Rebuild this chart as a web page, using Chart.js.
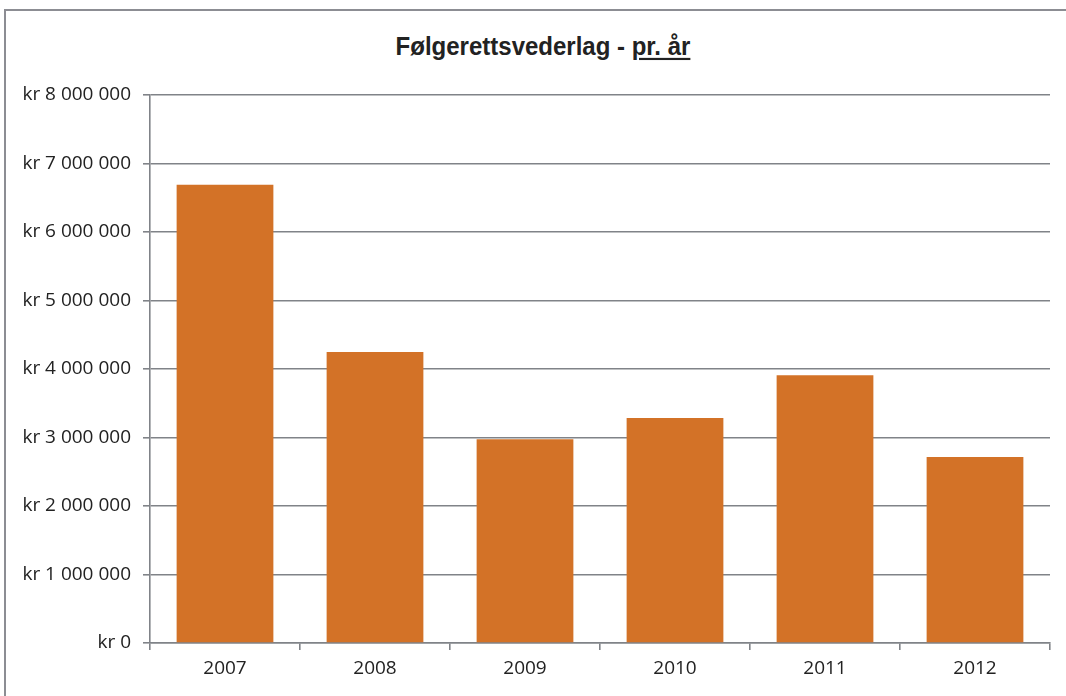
<!DOCTYPE html>
<html>
<head>
<meta charset="utf-8">
<script src="https://cdn.jsdelivr.net/npm/chart.js@4"></script>
<style>
  html, body { margin: 0; padding: 0; background: #fff; }
  #wrap { position: relative; width: 1066px; height: 696px; overflow: hidden; }
  #frame { position: absolute; left: 4px; top: 9px; width: 1100px; height: 800px;
           border-left: 2px solid #8c8d93; border-top: 2px solid #8c8d93; }
  #title { position: absolute; left: 0; top: 32px; width: 1086px; text-align: center;
           font-family: "Liberation Sans Narrow", "Arial Narrow", sans-serif; font-weight: bold;
           font-size: 24px; color: #222; transform: scaleY(1.08); }
  #title u { text-decoration-thickness: 2px; text-underline-offset: 3px; }
  canvas { position: absolute; left: 0; top: 0; }
</style>
</head>
<body>
<div id="wrap">
  <div id="frame"></div>
  <div id="title">Følgerettsvederlag - <u>pr. år</u></div>
  <canvas id="c" width="1066" height="696"></canvas>
</div>
<script>
const years = ["2007", "2008", "2009", "2010", "2011", "2012"];
const amounts = [6690000, 4250000, 2975000, 3285000, 3910000, 2715000];
const yMin = 0, yMax = 8000000, yStep = 1000000;

function krFormat(v) {
  const s = Math.round(v).toString().replace(/\B(?=(\d{3})+(?!\d))/g, " ");
  return "kr " + s;
}

new Chart(document.getElementById("c"), {
  type: "bar",
  data: {
    labels: years,
    datasets: [{
      data: amounts,
      backgroundColor: "#d37227",
      borderWidth: 0,
      categoryPercentage: 1.0,
      barPercentage: 0.645
    }]
  },
  options: {
    responsive: false,
    animation: false,
    layout: { padding: { left: 0, right: 16, top: 95, bottom: 0 } },
    plugins: { legend: { display: false }, title: { display: false }, tooltip: { enabled: false } },
    scales: {
      x: {
        afterFit: s => { s.height = 53; },
        grid: { display: true, drawOnChartArea: false, drawTicks: true, tickLength: 7, color: "#808388", lineWidth: 1.6, offset: true },
        border: { display: true, color: "#808388", width: 1.6 },
        ticks: { color: "#222", padding: 7, font: { family: "'Open Sans', sans-serif", size: 19 } }
      },
      y: {
        min: yMin, max: yMax,
        afterFit: s => { s.width = 150; },
        grid: { display: true, drawTicks: true, tickLength: 7, color: "#808388", lineWidth: 1.6 },
        border: { display: true, color: "#808388", width: 1.6 },
        ticks: { stepSize: yStep, color: "#222", padding: 12, callback: v => krFormat(v),
                 font: { family: "'Open Sans', sans-serif", size: 19 } }
      }
    }
  }
});
</script>
</body>
</html>
